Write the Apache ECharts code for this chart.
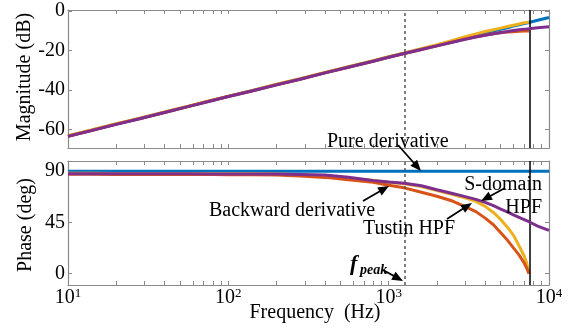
<!DOCTYPE html>
<html>
<head>
<meta charset="utf-8">
<script src="https://cdn.jsdelivr.net/npm/echarts@6/dist/echarts.min.js"></script>
<style>
html,body{margin:0;padding:0;background:#fff;}
#chart{width:577px;height:328px;}
</style>
</head>
<body>
<div id="chart"></div>
<script>
// Frequency points (Hz)
const freqHz = [10, 14, 20, 28, 40, 56, 80, 100, 140, 200, 280, 400, 560, 800, 1000, 1250, 1600, 2000, 2500, 3000, 3500, 4000, 4500, 5000, 5500, 6000, 6500, 7000, 7250, 7500, 8500, 10000];

// Magnitude (dB)
const magPure     = [-63.4, -60.5, -57.3, -54.5, -51.4, -48.4, -45.2, -43.3, -40.5, -37.3, -34.5, -31.3, -28.4, -25.3, -23.3, -21.4, -19.2, -17.3, -15.3, -13.8, -12.4, -11.3, -10.2, -9.3, -8.5, -7.7, -7.0, -6.4, -6.1, -5.8, -4.7, -3.3];
const magTustin   = [-63.3, -60.4, -57.2, -54.4, -51.2, -48.3, -45.1, -43.2, -40.4, -37.2, -34.4, -31.2, -28.3, -25.2, -23.2, -21.3, -19.1, -17.1, -14.9, -13.0, -11.6, -10.4, -9.5, -8.7, -7.9, -7.2, -6.6, -6.0, -5.8, -5.6, null, null];
const magBackward = [-63.5, -60.6, -57.4, -54.6, -51.5, -48.5, -45.3, -43.4, -40.6, -37.4, -34.6, -31.4, -28.5, -25.5, -23.5, -21.6, -19.5, -17.7, -15.7, -14.2, -13.1, -12.2, -11.6, -11.1, -10.7, -10.5, -10.3, -10.2, -10.15, -10.1, null, null];
const magSHpf     = [-63.6, -60.7, -57.5, -54.7, -51.5, -48.5, -45.4, -43.4, -40.6, -37.5, -34.6, -31.4, -28.5, -25.5, -23.5, -21.6, -19.5, -17.7, -15.9, -14.4, -13.2, -12.3, -11.5, -10.9, -10.4, -9.9, -9.5, -9.2, -9.1, -9.0, -8.5, -8.0];

// Phase (deg)
const phPure     = [90, 90, 90, 90, 90, 90, 90, 90, 90, 90, 90, 90, 90, 90, 90, 90, 90, 90, 90, 90, 90, 90, 90, 90, 90, 90, 90, 90, 90, 90, 90, 90];
const phTustin   = [88.2, 88.2, 88.1, 88.1, 88.0, 88.0, 87.9, 87.9, 87.8, 87.6, 87.0, 86.0, 84.3, 81.6, 80.3, 79.0, 76.6, 73.0, 69.5, 66.6, 63.5, 59.1, 53.8, 47.6, 40.8, 33.8, 24.5, 15.5, 9.5, 0, null, null];
const phBackward = [87.3, 87.3, 87.2, 87.2, 87.2, 87.1, 87.1, 87.0, 86.9, 86.8, 85.8, 84.6, 82.6, 80.3, 77.7, 75.4, 71.5, 68.0, 63.8, 58.9, 54.5, 48.8, 43.0, 36.0, 29.5, 22.6, 16.5, 9.3, 5.0, 0, null, null];
const phSHpf     = [87.8, 87.8, 87.8, 87.7, 87.7, 87.7, 87.6, 87.6, 87.6, 87.5, 87.2, 86.6, 84.8, 81.9, 80.6, 79.5, 77.2, 73.7, 70.5, 67.7, 65.3, 62.6, 59.7, 56.7, 54.3, 51.6, 49.5, 47.5, 46.5, 45.6, 41.8, 38.0];

// Axis ticks
const decadeHz = [10, 100, 1000, 10000];
const magTicks = [-60, -40, -20, 0];
const phaseTicks = [0, 45, 90];

// Reference frequencies
const fPeakHz = 1250;
const fHalfSampleHz = 7500;

const serif = '"Liberation Serif", "Times New Roman", serif';
const axisGray = '#8a8a8a';
const colors = { pure: '#0072BD', tustin: '#EDB120', backward: '#D95319', shpf: '#7E2F8E' };

const lg = Math.log10;
const minorTicks = [];
decadeHz.slice(0, 3).forEach(d => { for (let k = 1; k <= 9; k++) minorTicks.push(lg(k * d)); });
minorTicks.push(lg(10000));
const decadeLog = decadeHz.map(lg);

function pairs(vals) {
  return freqHz.map((f, i) => [lg(f), vals[i]]);
}

function xAx(gridIndex, position, labels) {
  return {
    type: 'value', gridIndex, position,
    min: 1, max: 4, interval: 1,
    axisLine: { show: true, onZero: false, lineStyle: { color: axisGray, width: 1.2 } },
    axisTick: { show: true, inside: true, length: 4, customValues: minorTicks, lineStyle: { color: axisGray } },
    axisLabel: {
      show: labels, customValues: decadeLog, margin: 2,
      formatter: v => '{b|10}{s|' + Math.round(v) + '}',
      rich: {
        b: { fontSize: 20, fontFamily: serif, color: '#000', lineHeight: 22 },
        s: { fontSize: 13, fontFamily: serif, color: '#000', lineHeight: 13, verticalAlign: 'top' }
      }
    },
    splitLine: { show: false }
  };
}

function yAx(gridIndex, position, labels, min, max, ticks) {
  return {
    type: 'value', gridIndex, position, min, max,
    axisLine: { show: true, onZero: false, lineStyle: { color: axisGray, width: 1.2 } },
    axisTick: { show: true, inside: true, length: 4, customValues: ticks, lineStyle: { color: axisGray } },
    axisLabel: { show: labels, customValues: ticks, margin: 3, fontSize: 20, fontFamily: serif, color: '#000' },
    splitLine: { show: false }
  };
}

function lineSeries(name, xi, yi, vals, color, z, extra) {
  return Object.assign({
    name, type: 'line', xAxisIndex: xi, yAxisIndex: yi,
    data: pairs(vals), showSymbol: false, symbol: 'none',
    lineStyle: { color, width: 3 }, itemStyle: { color },
    z, silent: true
  }, extra || {});
}

function refLines() {
  return {
    silent: true, symbol: ['none', 'none'], label: { show: false },
    data: [
      { xAxis: lg(fPeakHz), lineStyle: { color: '#555', width: 1.5, type: [3, 3] } },
      { xAxis: lg(fHalfSampleHz), lineStyle: { color: '#000', width: 1.5, type: 'solid' } }
    ]
  };
}

function arrow(x1, y1, x2, y2) {
  const dx = x2 - x1, dy = y2 - y1, L = Math.hypot(dx, dy);
  const ux = dx / L, uy = dy / L, hl = 11, hw = 4.5;
  const bx = x2 - ux * hl, by = y2 - uy * hl;
  return [
    { type: 'line', shape: { x1, y1, x2: bx + ux * 2, y2: by + uy * 2 }, style: { stroke: '#000', lineWidth: 1.8 }, z: 100 },
    { type: 'polygon', shape: { points: [[x2, y2], [bx - uy * hw, by + ux * hw], [bx + uy * hw, by - ux * hw]] }, style: { fill: '#000' }, z: 100 }
  ];
}

function txt(text, x, y, opts) {
  const o = opts || {};
  return {
    type: 'text', x, y, rotation: o.rot || 0, z: 100,
    style: {
      text, fill: '#000',
      font: (o.font || '20px ') + serif,
      align: o.align || 'left', verticalAlign: 'middle',
      textAlign: o.align || 'left', textVerticalAlign: 'middle'
    }
  };
}

const chart = echarts.init(document.getElementById('chart'), null, { renderer: 'canvas' });

const graphics = [
  txt('Magnitude (dB)', 25, 77, { align: 'center', rot: Math.PI / 2 }),
  txt('Phase (deg)', 26, 225, { align: 'center', rot: Math.PI / 2 }),
  txt('Frequency  (Hz)', 315, 313, { align: 'center' }),
  txt('Pure derivative', 327, 142),
  txt('Backward derivative', 209, 211),
  txt('Tustin HPF', 363, 229),
  txt('S-domain', 542, 185, { align: 'right' }),
  txt('HPF', 542, 208, { align: 'right' }),
  txt('f', 350, 264, { font: 'italic bold 22px ' }),
  txt('peak', 360, 270, { font: 'italic bold 14px ' })
].concat(
  arrow(398, 145, 421, 171),
  arrow(363, 201, 389, 186),
  arrow(447, 219, 472, 203),
  arrow(505, 188, 481, 201),
  arrow(383, 270, 403, 281)
);

chart.setOption({
  animation: false,
  backgroundColor: '#fff',
  grid: [
    { left: 68, top: 10, width: 481, height: 138 },
    { left: 68, top: 161, width: 481, height: 124 }
  ],
  xAxis: [
    xAx(0, 'bottom', false),
    xAx(0, 'top', false),
    xAx(1, 'bottom', true),
    xAx(1, 'top', false)
  ],
  yAxis: [
    yAx(0, 'left', true, -69.5, 0.5, magTicks),
    yAx(0, 'right', false, -69.5, 0.5, magTicks),
    yAx(1, 'left', true, -10, 99, phaseTicks),
    yAx(1, 'right', false, -10, 99, phaseTicks)
  ],
  series: [
    lineSeries('Pure derivative', 0, 0, magPure, colors.pure, 2),
    lineSeries('Tustin HPF', 0, 0, magTustin, colors.tustin, 3),
    lineSeries('Backward derivative', 0, 0, magBackward, colors.backward, 4),
    lineSeries('S-domain HPF', 0, 0, magSHpf, colors.shpf, 5, { markLine: refLines() }),
    lineSeries('Pure derivative', 2, 2, phPure, colors.pure, 2),
    lineSeries('Tustin HPF', 2, 2, phTustin, colors.tustin, 3),
    lineSeries('Backward derivative', 2, 2, phBackward, colors.backward, 4),
    lineSeries('S-domain HPF', 2, 2, phSHpf, colors.shpf, 5, { markLine: refLines() })
  ],
  graphic: graphics
});
</script>
</body>
</html>
